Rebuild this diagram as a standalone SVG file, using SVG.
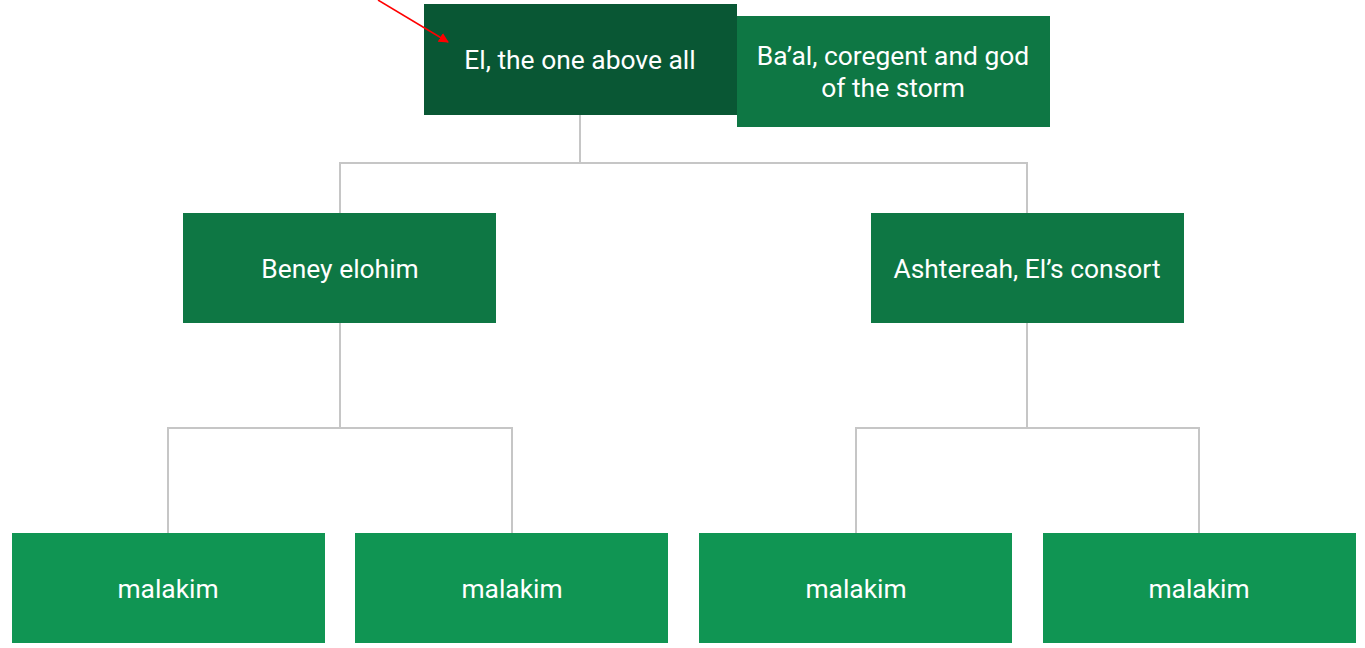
<svg xmlns="http://www.w3.org/2000/svg" width="1365" height="648" viewBox="0 0 1365 648">
<defs>
<style>
.t{font-family:Roboto,"Liberation Sans",sans-serif;font-size:26.4px;fill:#ffffff;text-anchor:middle}
.c{fill:none;stroke:#c6c6c6;stroke-width:2}
</style>
<marker id="ah" viewBox="0 0 10 10" refX="9" refY="5" markerWidth="10" markerHeight="10" markerUnits="userSpaceOnUse" orient="auto"><path d="M0,0 L10,5 L0,10 z" fill="#ff0000"/></marker>
</defs>
<rect width="1365" height="648" fill="#ffffff"/>
<g id="connectors">
<path class="c" d="M580,115 V163 M340,213 V163 H1027 V213"/>
<path class="c" d="M340,323 V428 M168,533 V428 H512 V533"/>
<path class="c" d="M1027,323 V428 M856,533 V428 H1199 V533"/>
</g>
<g id="baal"><rect x="737" y="16" width="313" height="111" fill="#0e7744"/><text class="t" x="893" y="65">Ba’al, coregent and god</text><text class="t" x="893" y="97">of the storm</text></g>
<g id="el"><rect x="424" y="4" width="313" height="111" fill="#095734"/><text class="t" x="580" y="69">El, the one above all</text></g>
<g id="beney"><rect x="183" y="213" width="313" height="110" fill="#0e7744"/><text class="t" x="340" y="278">Beney elohim</text></g>
<g id="ashtereah"><rect x="871" y="213" width="313" height="110" fill="#0e7744"/><text class="t" x="1027" y="278">Ashtereah, El’s consort</text></g>
<g id="m1"><rect x="12" y="533" width="313" height="110" fill="#109553"/><text class="t" x="168" y="598">malakim</text></g>
<g id="m2"><rect x="355" y="533" width="313" height="110" fill="#109553"/><text class="t" x="512" y="598">malakim</text></g>
<g id="m3"><rect x="699" y="533" width="313" height="110" fill="#109553"/><text class="t" x="856" y="598">malakim</text></g>
<g id="m4"><rect x="1043" y="533" width="313" height="110" fill="#109553"/><text class="t" x="1199" y="598">malakim</text></g>
<g id="arrow"><line x1="378" y1="0" x2="448" y2="42" stroke="#ff0000" stroke-width="1.5" marker-end="url(#ah)"/></g>
</svg>
